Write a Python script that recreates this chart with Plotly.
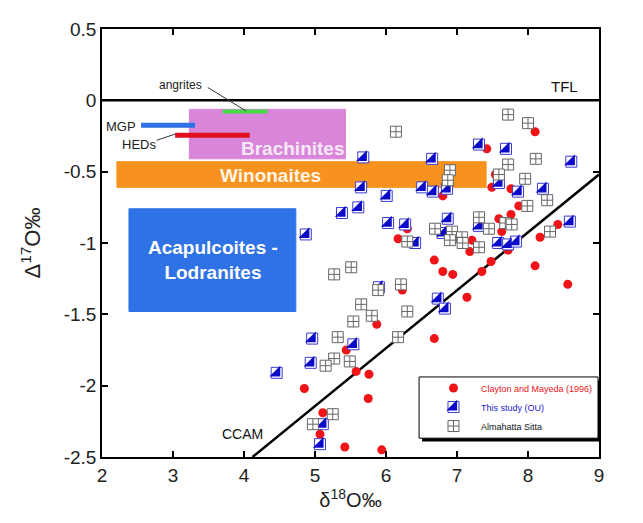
import plotly.graph_objects as go

# ---------------- data ----------------
# Clayton and Mayeda (1996)
cm_x = [8.10, 7.42, 7.54, 7.49, 7.76, 6.80, 7.87, 7.59, 7.76, 7.63, 8.17, 8.42,
        6.30, 6.17, 7.21, 7.18, 7.72, 6.68, 6.80, 6.94, 7.48, 7.35, 8.10, 8.56,
        7.14, 5.87, 6.68, 5.44, 5.58, 5.76, 4.85, 5.75, 5.11, 5.07, 5.42, 5.94, 6.23]
cm_y = [-0.22, -0.34, -0.52, -0.61, -0.62, -0.67, -0.74, -0.83, -0.80, -0.92, -0.96, -0.87,
        -0.90, -0.97, -0.98, -1.06, -1.05, -1.12, -1.20, -1.22, -1.13, -1.20, -1.16, -1.29,
        -1.38, -1.57, -1.67, -1.75, -1.90, -1.92, -2.02, -2.09, -2.19, -2.34, -2.43, -2.45, -1.33]

# This study (OU)
ou_x = [7.31, 7.69, 8.61, 5.68, 6.65, 5.65, 6.51, 6.66, 6.86, 7.59, 7.86, 8.21,
        6.01, 5.61, 5.38, 4.87, 6.03, 6.27, 6.41, 6.87, 7.31, 6.80, 7.58, 7.72,
        7.83, 8.59, 5.90, 6.73, 6.83, 4.96, 5.54, 4.94, 4.46, 5.11, 5.07]
ou_y = [-0.31, -0.34, -0.43, -0.40, -0.41, -0.61, -0.61, -0.64, -0.62, -0.58, -0.64, -0.62,
        -0.67, -0.75, -0.79, -0.94, -0.86, -0.87, -1.00, -0.83, -0.88, -0.93, -1.00, -1.01,
        -0.99, -0.85, -1.31, -1.39, -1.46, -1.67, -1.71, -1.84, -1.91, -2.27, -2.41]

# Almahatta Sitta
as_x = [7.72, 8.00, 6.14, 8.11, 7.72, 6.90, 7.59, 7.96, 6.87, 8.27, 7.99, 7.31,
        7.45, 7.68, 7.77, 6.69, 6.93, 6.90, 7.07, 7.08, 7.31, 8.31, 6.30, 5.51,
        5.27, 5.89, 6.21, 5.65, 5.80, 5.54, 6.30, 6.17, 5.32, 5.27, 5.15, 5.49,
        5.25, 4.97]
as_y = [-0.10, -0.16, -0.22, -0.41, -0.45, -0.49, -0.52, -0.55, -0.56, -0.70, -0.74, -0.82,
        -0.90, -0.86, -0.87, -0.90, -0.92, -0.98, -0.96, -1.00, -1.03, -0.92, -0.99, -1.17,
        -1.22, -1.33, -1.29, -1.43, -1.51, -1.55, -1.48, -1.66, -1.66, -1.81, -1.86, -1.83,
        -2.20, -2.27]

# meteorite-group fields
region_names = ["Brachinites", "Winonaites", "Acapulcoites -<br>Lodranites"]
region_x0 = [3.23, 2.21, 2.38]
region_x1 = [5.43, 7.41, 4.73]
region_y0 = [-0.41, -0.61, -1.48]
region_y1 = [-0.063, -0.43, -0.76]
region_label_x = [4.69, 4.37, 3.56]
region_label_y = [-0.34, -0.53, -1.12]
region_colors = ["#d985d9", "#f7921e", "#2f72e6"]
region_text_colors = ["#f6e9f6", "#fff4e6", "#ffffff"]

# thin bars
bar_names = ["angrites", "MGP", "HEDs"]
bar_x0 = [3.70, 2.55, 3.03]
bar_x1 = [4.33, 3.31, 4.08]
bar_y = [-0.079, -0.175, -0.245]
bar_colors = ["#45dd45", "#2f72e6", "#e3101e"]
bar_widths = [4, 5, 5]

# reference lines
tfl_x = [2, 9]
tfl_y = [0, 0]
ccam_x = [4.12, 9.0]
ccam_y = [-2.5, -0.52]

x_ticks = [2, 3, 4, 5, 6, 7, 8, 9]
y_ticks = [0.5, 0, -0.5, -1, -1.5, -2, -2.5]
y_tick_text = ["0.5", "0", "-0.5", "-1", "-1.5", "-2", "-2.5"]

FONT = "Liberation Sans, Arial, sans-serif"
NB = "\u00a0\u00a0\u00a0"

fig = go.Figure()

# fields
shapes = []
for x0, x1, y0, y1, c in zip(region_x0, region_x1, region_y0, region_y1, region_colors):
    shapes.append(dict(type="rect", xref="x", yref="y", x0=x0, x1=x1, y0=y0, y1=y1,
                       fillcolor=c, line=dict(color=c, width=1), layer="below"))
for x0, x1, y, c, w in zip(bar_x0, bar_x1, bar_y, bar_colors, bar_widths):
    shapes.append(dict(type="line", xref="x", yref="y", x0=x0, x1=x1, y0=y, y1=y,
                       line=dict(color=c, width=w), layer="below"))

# pointer lines for labels
shapes.append(dict(type="line", xref="x", yref="y", x0=3.49, y0=0.09, x1=4.03, y1=-0.075,
                   line=dict(color="#333", width=1)))
shapes.append(dict(type="line", xref="x", yref="y", x0=2.77, y0=-0.28, x1=3.04, y1=-0.235,
                   line=dict(color="#333", width=1)))

# legend box with shadow (paper coords)
lx0, lx1, ly0, ly1 = 0.638, 0.998, 0.044, 0.187
shapes.append(dict(type="rect", xref="paper", yref="paper", x0=lx0 + 0.006, x1=lx1 + 0.006,
                   y0=ly0 - 0.008, y1=ly1 - 0.008, fillcolor="black", line=dict(width=0)))
shapes.append(dict(type="rect", xref="paper", yref="paper", x0=lx0, x1=lx1, y0=ly0, y1=ly1,
                   fillcolor="white", line=dict(color="black", width=1)))

# reference lines
fig.add_trace(go.Scatter(x=tfl_x, y=tfl_y, mode="lines", line=dict(color="black", width=2.5),
                         showlegend=False, hoverinfo="skip"))
fig.add_trace(go.Scatter(x=ccam_x, y=ccam_y, mode="lines", line=dict(color="black", width=2.5),
                         showlegend=False, hoverinfo="skip"))

# data
fig.add_trace(go.Scatter(x=cm_x, y=cm_y, mode="markers",
                         name=NB + '<span style="color:#e8141c">Clayton and Mayeda (1996)</span>',
                         marker=dict(symbol="circle", size=9, color="#f01418", line=dict(width=0))))
fig.add_trace(go.Scatter(x=ou_x, y=ou_y, mode="markers",
                         name=NB + '<span style="color:#1a1acc">This study (OU)</span>',
                         marker=dict(symbol="square", size=11, color="white",
                                     line=dict(color="#3a3ad0", width=1))))
fig.add_trace(go.Scatter(x=ou_x, y=ou_y, mode="markers", legend="legend2",
                         name=NB + '<span style="color:rgba(0,0,0,0)">This study (OU)</span>',
                         marker=dict(symbol="triangle-se", size=12, color="#0a0ac8", line=dict(width=0))))
fig.add_trace(go.Scatter(x=as_x, y=as_y, mode="markers",
                         name=NB + '<span style="color:#111">Almahatta Sitta</span>',
                         marker=dict(symbol="square-cross", size=11, color="white",
                                     line=dict(color="#666", width=1))))

annotations = []
for name, x, y, tc in zip(region_names, region_label_x, region_label_y, region_text_colors):
    annotations.append(dict(x=x, y=y, xref="x", yref="y", text="<b>" + name + "</b>",
                            showarrow=False, font=dict(family=FONT, size=19, color=tc)))
annotations += [
    dict(x=3.10, y=0.105, xref="x", yref="y", text="angrites", showarrow=False,
         font=dict(family=FONT, size=12, color="#222")),
    dict(x=2.50, y=-0.18, xref="x", yref="y", text="MGP", showarrow=False, xanchor="right",
         font=dict(family=FONT, size=13, color="#222")),
    dict(x=2.52, y=-0.31, xref="x", yref="y", text="HEDs", showarrow=False,
         font=dict(family=FONT, size=13, color="#222")),
    dict(x=8.52, y=0.10, xref="x", yref="y", text="TFL", showarrow=False,
         font=dict(family=FONT, size=15, color="#111")),
    dict(x=3.98, y=-2.34, xref="x", yref="y", text="CCAM", showarrow=False,
         font=dict(family=FONT, size=14, color="#111")),
]

axis_common = dict(ticks="inside", ticklen=6, tickwidth=1.5, tickcolor="black",
                   showline=True, linecolor="black", linewidth=1.6, mirror="ticks",
                   showgrid=False, zeroline=False,
                   tickfont=dict(family=FONT, size=19, color="#222"))

leg_x = 0.667
leg_y = 0.195
row_h = 19 / 428.5

fig.update_layout(
    width=643, height=523,
    margin=dict(l=94, r=52, t=20.5, b=74),
    plot_bgcolor="white", paper_bgcolor="white",
    font=dict(family=FONT),
    shapes=shapes, annotations=annotations,
    xaxis=dict(range=[2, 9], tickvals=x_ticks, ticktext=[str(v) for v in x_ticks],
               title=dict(text="δ<sup>18</sup>O‰", font=dict(family=FONT, size=20, color="#222"),
                          standoff=5),
               **axis_common),
    yaxis=dict(range=[-2.5, 0.5], tickvals=y_ticks, ticktext=y_tick_text,
               title=dict(text="Δ<sup>17</sup>O‰", font=dict(family=FONT, size=22, color="#222"),
                          standoff=17),
               **axis_common),
    legend=dict(x=leg_x, y=leg_y, xanchor="left", yanchor="top", bgcolor="rgba(0,0,0,0)",
                borderwidth=0, font=dict(family=FONT, size=9), itemwidth=30,
                tracegroupgap=0),
    legend2=dict(x=leg_x, y=leg_y - row_h, xanchor="left", yanchor="top", bgcolor="rgba(0,0,0,0)",
                 borderwidth=0, font=dict(family=FONT, size=9), itemwidth=30,
                 tracegroupgap=0),
)

fig.write_html("out.html")
